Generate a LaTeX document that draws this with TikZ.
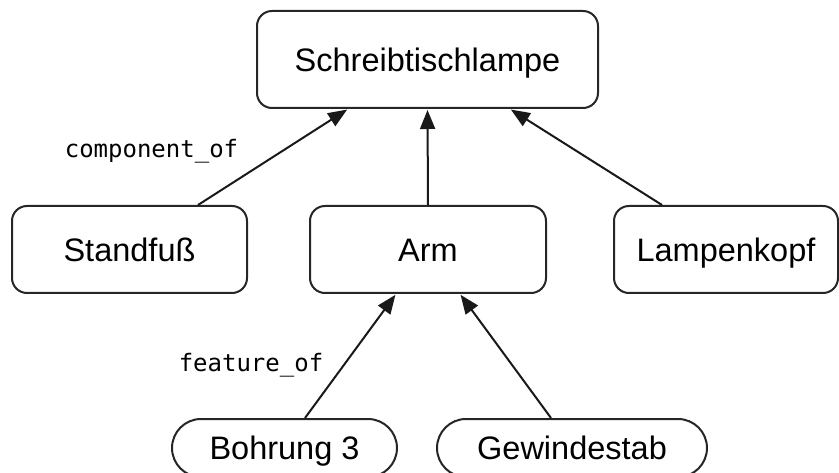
\documentclass[tikz,border=0pt]{standalone}
\usepackage{fontspec}
\setmainfont{Liberation Sans}
\newfontfamily\labelmono{DejaVu Sans Mono}
\usetikzlibrary{arrows.meta}

\tikzset{
  boxtext/.style={font=\fontsize{32.5}{38}\selectfont, text height=23.3pt, text depth=0pt},
  part/.style={draw=black!85, line width=2pt, rounded corners=15pt, inner sep=0pt, boxtext},
  feat/.style={draw=black!85, line width=2pt, rounded corners=29pt, inner sep=0pt,
    minimum height=58pt, boxtext},
  rel/.style={line width=2pt, draw=black!90,
    -{Triangle[length=19pt, width=15pt]}, shorten >=1pt},
  rellabel/.style={inner sep=0pt, font=\labelmono\fontsize{24}{28}\selectfont}
}

\begin{document}
\begin{tikzpicture}[x=1pt, y=-1pt]
  \useasboundingbox (0,0) rectangle (839,473);

  % whole and its components
  \node[part, minimum width=341pt, minimum height=97pt] (lamp) at (427.5,59.5) {Schreibtischlampe};
  \node[part, minimum width=235pt, minimum height=87pt] (fuss) at (129.5,249.5) {Standfuß};
  \node[part, minimum width=236pt, minimum height=87pt] (arm)  at (428,249.5) {Arm};
  \node[part, minimum width=224pt, minimum height=87pt] (kopf) at (726,249.5) {Lampenkopf};

  % features of the arm
  \node[feat, minimum width=225pt] (bohr) at (284.5,448) {Bohrung 3};
  \node[feat, minimum width=270pt] (gew)  at (572,448) {Gewindestab};

  % component_of relations
  \draw[rel] ([xshift=68.5pt]fuss.north) -- ([xshift=-79.5pt]lamp.south);
  \draw[rel] (arm.north) -- (lamp.south);
  \draw[rel] ([xshift=-64pt]kopf.north) -- ([xshift=82.5pt]lamp.south);

  % feature_of relations
  \draw[rel] ([xshift=20.5pt]bohr.north) -- ([xshift=-32pt]arm.south);
  \draw[rel] ([xshift=-21pt]gew.north) -- ([xshift=32pt]arm.south);

  % relation names
  \node[rellabel] (lcomp) at (151.5,151) {component\_of};
  \node[rellabel] (lfeat) at (251,365) {feature\_of};
\end{tikzpicture}
\end{document}
